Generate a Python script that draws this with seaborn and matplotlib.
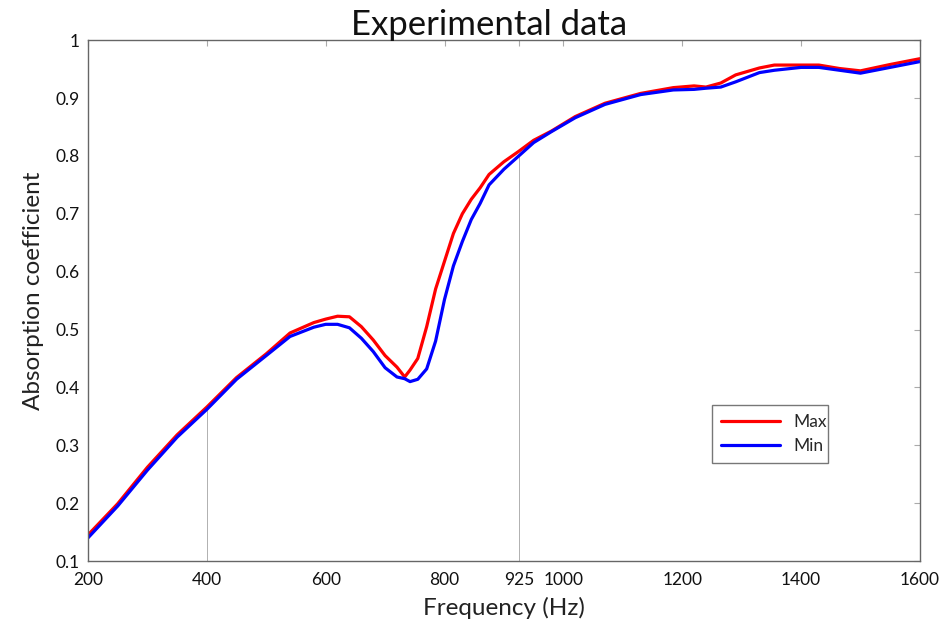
import numpy as np
import pandas as pd
import matplotlib
matplotlib.use("Agg")
import matplotlib.pyplot as plt
import seaborn as sns

freq = [200, 250, 300, 350, 400, 450, 500, 540, 580, 600, 620, 640, 660, 680,
        700, 720, 733, 742, 755, 770, 785, 800, 815, 830, 845, 860, 875, 900,
        925, 950, 980, 1020, 1070, 1130, 1185, 1220, 1240, 1265, 1290, 1330,
        1355, 1400, 1430, 1465, 1500, 1550, 1600]
max_vals = [0.145, 0.199, 0.262, 0.318, 0.366, 0.417, 0.458, 0.494, 0.512, 0.518,
            0.523, 0.522, 0.505, 0.482, 0.455, 0.435, 0.418, 0.43, 0.45, 0.505,
            0.57, 0.618, 0.666, 0.70, 0.725, 0.745, 0.768, 0.79, 0.808, 0.827,
            0.843, 0.868, 0.891, 0.908, 0.918, 0.921, 0.919, 0.926, 0.94, 0.952,
            0.957, 0.957, 0.957, 0.951, 0.947, 0.958, 0.968]
min_vals = [0.14, 0.195, 0.257, 0.314, 0.362, 0.414, 0.455, 0.488, 0.504, 0.509,
            0.509, 0.503, 0.485, 0.462, 0.434, 0.418, 0.415, 0.41, 0.414, 0.432,
            0.48, 0.552, 0.61, 0.652, 0.69, 0.718, 0.75, 0.777, 0.80, 0.823,
            0.842, 0.866, 0.889, 0.906, 0.914, 0.915, 0.917, 0.919, 0.928, 0.944,
            0.948, 0.953, 0.953, 0.948, 0.943, 0.953, 0.963]
series_names = ["Max", "Min"]
x_ticks = [200, 400, 600, 800, 925, 1000, 1200, 1400, 1600]
y_ticks = [0.1, 0.2, 0.3, 0.4, 0.5, 0.6, 0.7, 0.8, 0.9, 1.0]
y_tick_labels = ["0.1", "0.2", "0.3", "0.4", "0.5", "0.6", "0.7", "0.8", "0.9", "1"]
marker_freqs = [400, 925]

df = pd.DataFrame({
    "Frequency": freq * 2,
    "Absorption": max_vals + min_vals,
    "Series": [series_names[0]] * len(freq) + [series_names[1]] * len(freq),
})

sns.set_theme(style="white")
plt.rcParams['font.family'] = ['Lato', 'DejaVu Sans']

fig = plt.figure(figsize=(9.4, 6.23), dpi=100)
ax = fig.add_axes([0.0936, 0.0995, 0.885, 0.836])

sns.lineplot(data=df, x="Frequency", y="Absorption", hue="Series",
             palette={"Max": "#ff0000", "Min": "#0000ff"}, linewidth=2.3,
             ax=ax, sort=False)

for f in marker_freqs:
    top = float(np.interp(f, freq, min_vals))
    ax.vlines(f, 0.1, top, colors="#b0b0b0", linewidth=0.7, zorder=1)

ax.set_xlim(200, 1600)
ax.set_ylim(0.1, 1.0)
ax.set_xticks(x_ticks)
ax.set_xticklabels([str(t) for t in x_ticks])
ax.set_yticks(y_ticks)
ax.set_yticklabels(y_tick_labels)
ax.tick_params(direction="in", length=4, width=0.8, color="#aaaaaa",
               top=True, right=True, labelsize=12.5, labelcolor="#111111")
ax.tick_params(axis="x", pad=8)
ax.tick_params(axis="y", pad=6)
for s in ax.spines.values():
    s.set_color("#666666")
    s.set_linewidth(1.0)

ax.set_xlabel("Frequency (Hz)", fontsize=17.5, color="#222222", labelpad=6)
ax.set_ylabel("Absorption coefficient", fontsize=17.5, color="#222222")
ax.yaxis.set_label_coords(-0.053, 0.518)
ax.set_title("Experimental data", fontsize=25, color="#111111", pad=4, x=0.482)

leg = ax.legend(loc="lower left", bbox_to_anchor=(0.75, 0.188, 0.14, 0.115),
                mode="expand", frameon=True, fancybox=False, fontsize=12.5,
                handlelength=3.4, borderaxespad=0, borderpad=0.5,
                labelspacing=0.5)
leg.get_frame().set_edgecolor("#555555")
leg.get_frame().set_linewidth(1.0)
for line in leg.get_lines():
    line.set_linewidth(2.3)

fig.savefig("out.png", dpi=100)
